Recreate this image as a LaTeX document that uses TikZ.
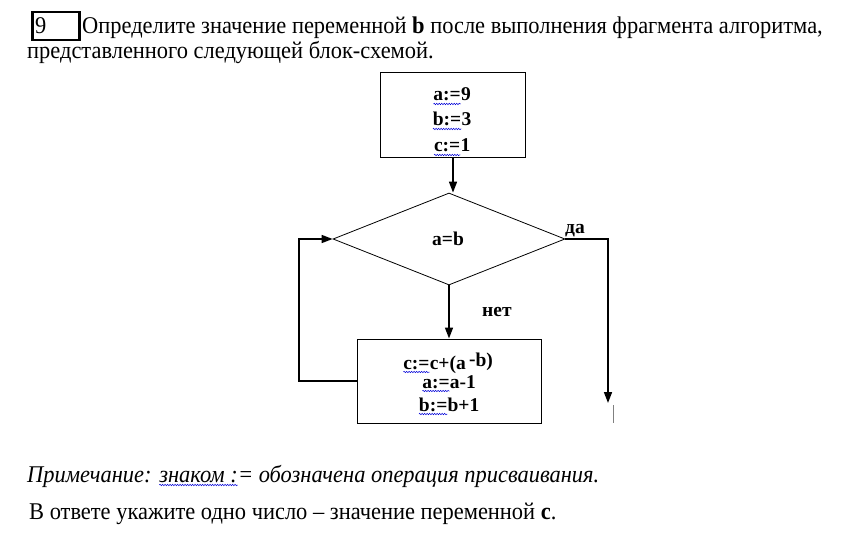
\documentclass[tikz,border=0pt]{standalone}
\usepackage{fontspec}
\setmainfont[FakeStretch=0.935]{Liberation Serif}
\newfontfamily\lblfont{Liberation Serif}
\usetikzlibrary{shapes.geometric,arrows.meta,decorations.pathmorphing}
\newcommand\wav[1]{\tikz[baseline=(w.base)]{\node[inner sep=0pt, outer sep=0pt, anchor=base west] (w) at (0pt,0pt) {#1};\draw[blue!85!black, line width=0.5pt, decorate, decoration={snake, amplitude=0.7pt, segment length=2.5pt}] ([yshift=-3pt]w.base west) -- ([yshift=-3pt]w.base east);}}
\begin{document}
\begin{tikzpicture}[x=1pt,y=-1pt,
 txt/.style={inner sep=0, anchor=base west, font=\fontsize{24}{26}\selectfont},
 lbl/.style={inner sep=0, anchor=base, font=\lblfont\fontsize{19.5}{22}\selectfont\bfseries},
 blk/.style={draw, line width=1pt, inner sep=0},
 arr/.style={line width=1.6pt, -{Triangle[length=11pt,width=8pt]}},
 ln/.style={line width=1.6pt}]
\useasboundingbox (0,0) rectangle (856,548);
\fill[white] (0,0) rectangle (856,548);
% header
\node[draw, line width=2.5pt, minimum width=47pt, minimum height=28pt, anchor=north west, inner sep=0] (num) at (31,11) {};
\node[txt] (n9) at (35,34) {9};
\node[txt] (l1) at (82,34) {Определите значение переменной \textbf{b} после выполнения фрагмента алгоритма,};
\node[txt] (l2) at (27,59) {представленного следующей блок-схемой.};
% init block
\node[blk, minimum width=145pt, minimum height=85pt] (init) at (453,115.5) {};
\node[lbl] (t1) at (452,101) {\wav{a:=}9};
\node[lbl] (t2) at (452,126) {\wav{b:=}3};
\node[lbl] (t3) at (452,152) {\wav{c:=}1};
% condition
\node[draw, diamond, line width=0.8pt, minimum width=232pt, minimum height=92pt, inner sep=0, aspect=2.5] (cond) at (449,239) {};
\node[lbl] (ctext) at (448,245) {a=b};
\draw[arr] (init.south) -- (init.south |- cond.north);
% yes branch
\node[lbl, anchor=base west] (yes) at (565,233) {да};
\coordinate (yc) at (608,239);
\coordinate (yend) at (608,403);
\draw[arr] (cond.east) -- (yc) -- (yend);
\coordinate (cur1) at (613,405);
\coordinate (cur2) at (613,423);
\draw[gray, line width=0.8pt] (cur1) -- (cur2);
% no branch
\node[lbl, anchor=base west] (no) at (482,316) {нет};
\node[blk, minimum width=184pt, minimum height=84pt] (body) at (449,381) {};
\draw[arr] (cond.south) -- (body.north);
\node[lbl] (b1) at (448,369) {\wav{c:=}c+(a\,\raisebox{2.5pt}{\raisebox{1.5pt}{-}b)}};
\node[lbl] (b2) at (449,388) {\wav{a:=}a-1};
\node[lbl] (b3) at (449,411) {\wav{b:=}b+1};
% loop back
\coordinate (lp) at (299,0);
\draw[arr] (body.west) -- (body.west -| lp) |- (cond.west);
% footer
\node[txt, font=\fontsize{24}{26}\selectfont\itshape] (note) at (27,482) {Примечание: \wav{знаком :}= обозначена операция присваивания.};
\node[txt] (ans) at (29,519) {В ответе укажите одно число – значение переменной \textbf{c}.};
\end{tikzpicture}
\end{document}
